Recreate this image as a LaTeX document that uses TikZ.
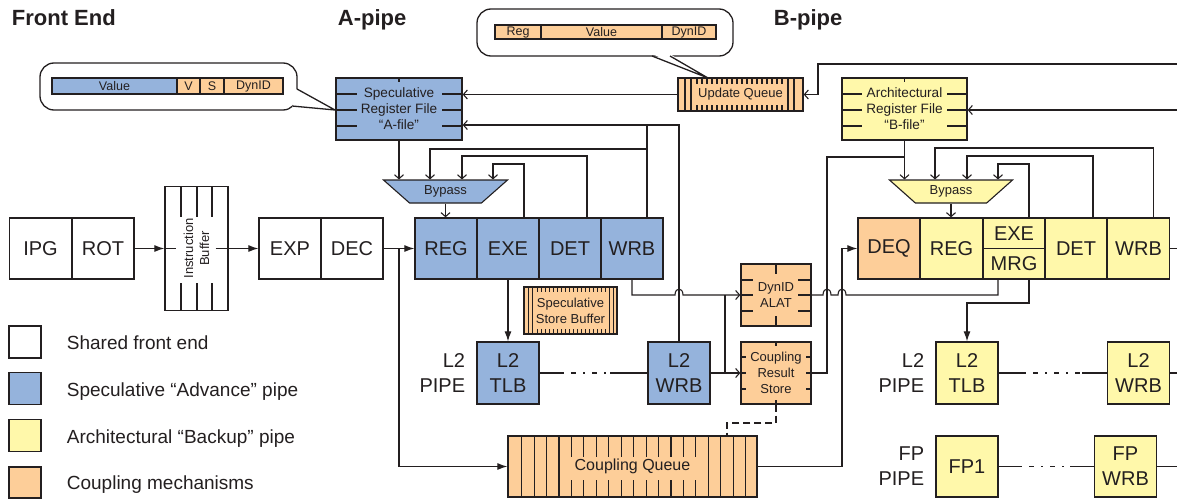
\documentclass[tikz,border=0pt]{standalone}
\usepackage{fontspec}
\setmainfont{Liberation Sans}
\usepackage{tikz}
\usetikzlibrary{shapes.geometric, arrows.meta, calc}
\definecolor{ablue}{RGB}{149,179,220}
\definecolor{byellow}{RGB}{255,248,170}
\definecolor{corange}{RGB}{253,206,153}
\definecolor{ink}{RGB}{35,31,32}

\begin{document}
\begin{tikzpicture}[x=1pt, y=-1pt, color=ink, line width=1.1pt,
    box/.style={draw, line width=1.3pt, inner sep=0pt, align=center},
    stage/.style={box, minimum width=62pt, minimum height=61pt, font=\fontsize{20}{25}\selectfont},
    smalltxt/.style={font=\fontsize{13}{16}\selectfont},
    regfile/.style={box, minimum width=125pt, minimum height=62pt, font=\fontsize{13.6}{16}\selectfont},
    field/.style={draw, inner sep=0pt, minimum height=16pt, font=\fontsize{12.5}{14}\selectfont},
    bypass/.style={trapezium, shape border rotate=180, trapezium stretches=true, trapezium angle=37,
      draw, minimum width=125pt, minimum height=23pt, inner sep=0pt, smalltxt},
    headline/.style={anchor=base west, font=\fontsize{22}{24}\selectfont\bfseries},
    keytext/.style={anchor=base west, font=\fontsize{19}{22}\selectfont},
    pipelabel/.style={anchor=east, align=right, font=\fontsize{20}{25}\selectfont},
    solidtip/.style={-{Latex[length=10pt,width=7pt]}},
    opentip/.style={-{Straight Barb[length=4pt,width=9pt]}},
    gapline/.style={dash pattern=on 2pt off 7pt on 5pt off 7pt}]
\useasboundingbox (0,0) rectangle (1177,498);

% headings
\node[headline] (feHead) at (8,25) {Front End};
\node[headline] (aHead) at (334,25) {A-pipe};
\node[headline] (bHead) at (770,25) {B-pipe};

% front end
\node[stage] (ipg) at (40.5,248.5) {IPG};
\node[stage] (rot) at (103,248.5) {ROT};
\node[box, minimum width=63pt, minimum height=124pt] (ibuf) at (196.5,248.5) {};
\node[smalltxt, rotate=90, align=center] (ibufText) at (ibuf) {Instruction\\Buffer};
\foreach \x in {181,197,212} {
  \draw (\x,186.5) -- (\x,217);
  \draw (\x,283) -- (\x,310.5);
}
\node[stage] (exp) at (290,248.5) {EXP};
\node[stage] (dec) at (352,248.5) {DEC};

% A-pipe
\foreach \nm/\lbl/\x in {regA/REG/446, exeA/EXE/508, detA/DET/570, wrbA/WRB/632}
  \node[stage, fill=ablue] (\nm) at (\x,248.5) {\lbl};
\node[regfile, fill=ablue, minimum width=126pt] (afile) at (399,109)
  {Speculative\\Register File\\“A-file”};
\draw (afile.north) -- ++(0,5);
\foreach \y in {94,110,126} {
  \draw (afile.west |- 0,\y) -- ++(22,0);
  \draw (afile.east |- 0,\y) -- ++(-21,0);
}
\node[bypass, fill=ablue] (bypA) at (445.5,191.5) {Bypass};

% A-file entry balloon
\draw[line width=1.3pt, rounded corners=14pt] (40,63) rectangle (297,110);
\fill[white] (296,89) -- (335,110) -- (292,107) -- cycle;
\draw[line width=1.3pt] (297,89) -- (335,110) -- (292,106);
\node[field, fill=ablue, minimum width=125pt] (fValA) at (114.5,86) {Value};
\node[field, fill=corange, minimum width=23pt] (fV) at (188.5,86) {V};
\node[field, fill=corange, minimum width=24pt] (fS) at (212,86) {S};
\node[field, fill=corange, minimum width=59pt] (fDynA) at (253.5,86) {DynID};

% update queue and its balloon
\node[box, smalltxt, fill=corange, minimum width=125pt, minimum height=33pt] (uq) at (740.5,94.5) {Update Queue};
\foreach \x in {685,691,788,794} \draw (\x,78) -- (\x,111);
\foreach \x in {697,702,...,783} {
  \draw (\x,78) -- (\x,84);
  \draw (\x,105) -- (\x,111);
}
\draw[line width=1.3pt, rounded corners=14pt] (477,9) rectangle (733,56);
\fill[white] (652,54) -- (708,78) -- (670,54) -- cycle;
\draw[line width=1.3pt] (652,56) -- (708,78) -- (670,56);
\node[field, fill=corange, minimum width=46pt, minimum height=14pt] (fReg) at (518,32) {Reg};
\node[field, fill=corange, minimum width=121pt, minimum height=14pt] (fValU) at (601.5,32) {Value};
\node[field, fill=corange, minimum width=54pt, minimum height=14pt] (fDynU) at (689,32) {DynID};

% store buffer
\node[box, smalltxt, fill=corange, minimum width=93pt, minimum height=47pt] (ssb) at (570.5,310.5)
  {Speculative\\Store Buffer};
\foreach \x in {528,532,609,613} \draw[line width=0.9pt] (\x,287) -- (\x,334);
\foreach \x in {537,541,...,605} {
  \draw[line width=0.9pt] (\x,287) -- (\x,292);
  \draw[line width=0.9pt] (\x,329) -- (\x,334);
}

% ALAT and result store
\node[box, smalltxt, fill=corange, minimum width=70pt, minimum height=62pt] (alat) at (776,295) {DynID\\ALAT};
\draw (alat.north) -- ++(0,11);
\draw (alat.south) -- ++(0,-11);
\foreach \y in {280,295,311} {
  \draw (alat.west |- 0,\y) -- ++(13,0);
  \draw (alat.east |- 0,\y) -- ++(-14,0);
}
\node[box, smalltxt, fill=corange, minimum width=70pt, minimum height=62pt] (crs) at (776,373)
  {Coupling\\Result\\Store};
\draw (crs.north) -- ++(0,5);
\draw (crs.south) -- ++(0,-5);
\foreach \y in {357,373,389} {
  \draw (crs.west |- 0,\y) -- ++(6,0);
  \draw (crs.east |- 0,\y) -- ++(-6,0);
}

% coupling queue
\node[box, fill=corange, minimum width=249pt, minimum height=61pt, font=\fontsize{16}{18}\selectfont] (cq)
  at (632.5,466.5) {Coupling Queue};
\foreach \i in {0,1,2,3,15,16,17,18} \draw ({521.7+12.44*\i},436) -- ++(0,61);
\foreach \i in {4,...,14} {
  \draw ({521.7+12.44*\i},436) -- ++(0,21);
  \draw ({521.7+12.44*\i},480) -- ++(0,17);
}

% L2 pipe of the A-pipe
\node[stage, fill=ablue, minimum height=62pt] (l2tlbA) at (508,373) {L2\\TLB};
\node[stage, fill=ablue, minimum height=62pt] (l2wrbA) at (679,373) {L2\\WRB};
\node[pipelabel] (l2labA) at (469,373.5) {L2\\PIPE};

% B-pipe
\node[stage, fill=corange] (deq) at (889,248.5) {DEQ};
\node[stage, fill=byellow] (regB) at (951.5,248.5) {REG};
\node[stage, fill=byellow, minimum height=30.5pt] (exeB) at (1014,233.25) {EXE};
\node[stage, fill=byellow, minimum height=30.5pt] (mrgB) at (1014,263.75) {MRG};
\node[stage, fill=byellow] (detB) at (1076,248.5) {DET};
\node[stage, fill=byellow] (wrbB) at (1138.5,248.5) {WRB};
\node[regfile, fill=byellow] (bfile) at (904.5,109)
  {Architectural\\Register File\\“B-file”};
\draw (bfile.north) -- ++(0,5);
\foreach \y in {94,110,126} {
  \draw (bfile.west |- 0,\y) -- ++(21,0);
  \draw (bfile.east |- 0,\y) -- ++(-21,0);
}
\node[bypass, fill=byellow, minimum width=124pt] (bypB) at (951,191.5) {Bypass};
\node[stage, fill=byellow, minimum height=62pt] (l2tlbB) at (967,373) {L2\\TLB};
\node[stage, fill=byellow, minimum height=62pt] (l2wrbB) at (1138.5,373) {L2\\WRB};
\node[pipelabel] (l2labB) at (928,373.5) {L2\\PIPE};
\node[stage, fill=byellow] (fp1) at (967,466.5) {FP1};
\node[stage, fill=byellow] (fpwrb) at (1125.5,466.5) {FP\\WRB};
\node[pipelabel] (fplab) at (928,466.5) {FP\\PIPE};

% legend
\node[box, minimum size=32pt] (keyFront) at (25,342) {};
\node[keytext] (keyFrontText) at (63,349) {Shared front end};
\node[box, fill=ablue, minimum size=32pt] (keyAdv) at (25,388.5) {};
\node[keytext] (keyAdvText) at (63,396) {Speculative “Advance” pipe};
\node[box, fill=byellow, minimum size=32pt] (keyBack) at (25,435.5) {};
\node[keytext] (keyBackText) at (63,443) {Architectural “Backup” pipe};
\node[box, fill=corange, minimum width=32pt, minimum height=31pt] (keyCpl) at (25,482.5) {};
\node[keytext] (keyCplText) at (63,489) {Coupling mechanisms};

% front end flow
\draw[solidtip] (rot.east) -- (ibuf.west);
\draw (ibuf.west) -- ++(12,0);
\draw[solidtip] ([xshift=-13pt]ibuf.east) -- (exp.west);
\draw[solidtip] (dec.east) -- (regA.west);
\coordinate (decFork) at (399,248.5);
\draw[solidtip] (decFork) |- (cq.west);

% A-pipe wiring
\draw[opentip] (afile.south) -- (afile.south |- bypA.north);
\draw[opentip] (l2wrbA.north) |- (afile.east |- 0,125);
\draw ([xshift=15pt]wrbA.north) -- (647,125);
\draw[opentip] (647,149) -| (bypA.north -| 430,0);
\draw[opentip] ([xshift=17pt]detA.north) |- (462,156) -- (bypA.north -| 462,0);
\draw[opentip] ([xshift=16pt]exeA.north) |- (493,164) -- (bypA.north -| 493,0);
\draw[opentip] (bypA.south) -- (bypA.south |- regA.north);
\draw[opentip] (uq.west) -- (uq.west -| afile.east);
\coordinate (uqIn) at (1177,64);
\draw[opentip] (uqIn) -- (818,64) |- (uq.east);
\draw[opentip] (wrbA.south) |- (675,295) .. controls (675,287) and (683,287) .. (683,295) -- (alat.west);
\coordinate (alatFork) at (725,295);
\draw (alatFork) -- (725,373);
\draw[opentip] (l2wrbA.east) -- (crs.west);
\draw[solidtip] (exeA.south) -- (l2tlbA.north);
\draw (l2tlbA.east) -- (562,373);
\draw[gapline] (562,373) -- (610,373);
\draw (610,373) -- (l2wrbA.west);
\draw[line width=2.2pt, dash pattern=on 7pt off 4pt] (crs.south) |- (727,423) -- (cq.north -| 727,0);

% B-pipe wiring
\coordinate (bIn) at (1177,110);
\draw[opentip] (bIn) -- (bIn -| bfile.east);
\draw[opentip] (bfile.south) -- (bfile.south |- bypB.north);
\draw (crs.east) -| (827,157) -- (bfile.south |- 0,157);
\draw[opentip] ([xshift=15pt]wrbB.north) |- (935,148) -- (bypB.north -| 935,0);
\draw[opentip] ([xshift=17pt]detB.north) |- (967,156) -- (bypB.north -| 967,0);
\draw[opentip] ([xshift=15pt]exeB.north) |- (998,164) -- (bypB.north -| 998,0);
\draw[opentip] (bypB.south) -- (bypB.south |- regB.north);
\draw[solidtip] (cq.east) -| (842,248.5) -- (deq.west);
\draw ([xshift=-16pt]mrgB.south) |- (846,295) .. controls (846,287) and (838,287) .. (838,295) -- (831,295)
  .. controls (831,287) and (823,287) .. (823,295) -- (alat.east);
\draw[solidtip] ([xshift=15pt]mrgB.south) |- (l2tlbB.north |- 0,303) -- (l2tlbB.north);
\coordinate (wrbOut) at (1177,248.5);
\draw (wrbB.east) -- (wrbOut);
\draw (l2tlbB.east) -- (1024,373);
\draw[gapline] (1024,373) -- (1082,373);
\draw (1082,373) -- (l2wrbB.west);
\coordinate (l2Out) at (1177,373);
\draw (l2wrbB.east) -- (l2Out);
\draw (fp1.east) -- (1020,466.5);
\draw[gapline] (1020,466.5) -- (1070,466.5);
\draw (1070,466.5) -- (fpwrb.west);
\coordinate (fpOut) at (1177,466.5);
\draw (fpwrb.east) -- (fpOut);
\end{tikzpicture}
\end{document}
